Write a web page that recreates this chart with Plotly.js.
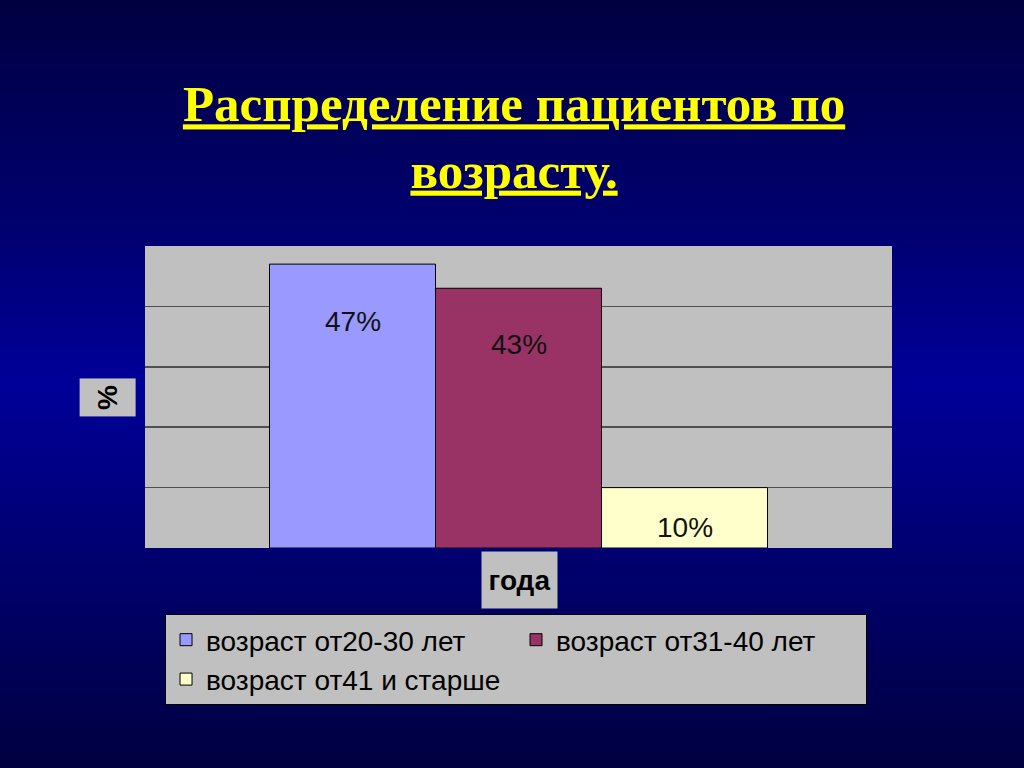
<!DOCTYPE html>
<html>
<head>
<meta charset="utf-8">
<script src="https://cdn.plot.ly/plotly-3.0.1.min.js"></script>
<style>
  html, body { margin: 0; padding: 0; }
  body {
    width: 1024px; height: 768px; overflow: hidden;
    background: linear-gradient(to bottom, #000040 0%, #000070 30%, #000099 50%, #000070 72%, #000040 100%);
  }
  #chart { width: 1024px; height: 768px; }
</style>
</head>
<body>
<div id="chart"></div>
<script>
// values
var groups = ['возраст от20-30 лет', 'возраст от31-40 лет', 'возраст от41 и старше'];
var percents = [47, 43, 10];
var labels = ['47%', '43%', '10%'];
var colors = ['#9999ff', '#993366', '#ffffcc'];
var labelDrop = [-57, -56, -40];

var data = [];
groups.forEach(function (g, i) {
    data.push({
        type: 'bar',
        x: [g],
        y: [percents[i]],
        name: g,
        marker: { color: colors[i], line: { color: '#000000', width: 1 } },
        hoverinfo: 'skip'
    });
});

var annotations = groups.map(function (g, i) {
    return {
        x: g, y: percents[i], xref: 'x', yref: 'y',
        yanchor: 'middle', yshift: labelDrop[i],
        text: labels[i], showarrow: false,
        font: { family: 'Liberation Sans, Arial', size: 28, color: '#111111' }
    };
});

// axis titles drawn as grey boxes like on the slide
annotations.push({
    xref: 'paper', yref: 'paper', x: -0.0495, y: 0.497,
    xanchor: 'center', yanchor: 'middle',
    text: '<b>%</b>', textangle: -90, showarrow: false,
    width: 35, height: 53, bgcolor: '#c0c0c0',
    font: { family: 'Liberation Sans, Arial', size: 28, color: '#000000' }
});
annotations.push({
    xref: 'paper', yref: 'paper', x: 0.502, y: -0.106,
    xanchor: 'center', yanchor: 'middle',
    text: '<b>года</b>', showarrow: false,
    width: 73, height: 54, bgcolor: '#c0c0c0',
    font: { family: 'Liberation Sans, Arial', size: 28, color: '#000000' }
});

var layout = {
    width: 1024,
    height: 768,
    paper_bgcolor: 'rgba(0,0,0,0)',
    plot_bgcolor: '#c0c0c0',
    margin: { l: 145, r: 132, t: 246, b: 220 },
    barmode: 'overlay',
    bargap: 0,
    title: {
        text: '<u>Распределение пациентов по</u><br><u>возрасту.</u>',
        font: { family: 'Liberation Serif, Times New Roman', size: 51, color: '#ffff00', weight: 'bold' },
        x: 0.502, xanchor: 'center',
        y: 0.842, yanchor: 'top', yref: 'container'
    },
    xaxis: {
        type: 'category',
        range: [-1.25, 3.25],
        showticklabels: false,
        showgrid: false,
        zeroline: false,
        fixedrange: true
    },
    yaxis: {
        range: [0, 50],
        tickvals: [10, 20, 30, 40],
        showticklabels: false,
        showgrid: true,
        gridcolor: '#505050',
        gridwidth: 1.5,
        zeroline: false,
        fixedrange: true
    },
    showlegend: true,
    legend: {
        orientation: 'h',
        x: 0.0268, xanchor: 'left',
        y: -0.2185, yanchor: 'top',
        bgcolor: '#c0c0c0',
        bordercolor: '#000000',
        borderwidth: 1,
        entrywidth: 305,
        traceorder: 'normal',
        font: { family: 'Liberation Sans, Arial', size: 28, color: '#000000' }
    },
    annotations: annotations
};

Plotly.newPlot('chart', data, layout, { displayModeBar: false, staticPlot: true });
</script>
</body>
</html>
